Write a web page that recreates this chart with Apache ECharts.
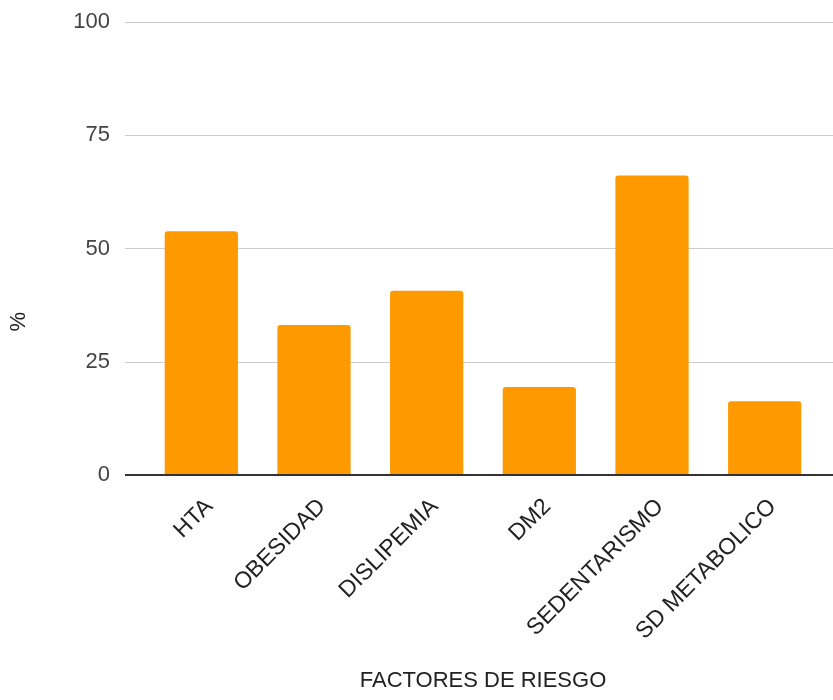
<!DOCTYPE html>
<html><head><meta charset="utf-8">
<script src="https://cdn.jsdelivr.net/npm/echarts@6/dist/echarts.min.js"></script>
<style>html,body{margin:0;padding:0;background:#fff}#c{width:833px;height:700px}</style>
</head><body><div id="c"></div>
<script>
const categories = ['HTA','OBESIDAD','DISLIPEMIA','DM2','SEDENTARISMO','SD METABOLICO'];
const values = [53.8, 33.1, 40.7, 19.4, 66.1, 16.3];
const yTicks = [0, 25, 50, 75, 100];
const xTitle = 'FACTORES DE RIESGO';
const yTitle = '%';

const chart = echarts.init(document.getElementById('c'), null, {renderer:'canvas'});
const font = 'Liberation Sans, Arial, sans-serif';
const fs = 22;
chart.setOption({
  animation:false,
  grid:[
    {left:125, right:0, top:22, bottom:225},
    {left:145, right:12, top:22, bottom:225},
    {left:153, right:4, top:22, bottom:225}
  ],
  xAxis:[
    {gridIndex:0, type:'value', show:false, min:0, max:1},
    {gridIndex:1, type:'category', data:categories,
     axisLine:{show:false}, axisTick:{show:false}, axisLabel:{show:false},
     name:xTitle, nameLocation:'middle', nameGap:195,
     nameTextStyle:{fontSize:fs, color:'#222', fontFamily:font}},
    {gridIndex:2, type:'category', data:categories,
     axisLine:{show:false}, axisTick:{show:false},
     axisLabel:{rotate:45, margin:28, fontSize:23, color:'#222', fontFamily:font, interval:0}}
  ],
  yAxis:[
    {gridIndex:0, type:'value', min:yTicks[0], max:yTicks[yTicks.length-1], interval:25,
     axisLine:{show:false}, axisTick:{show:false},
     axisLabel:{fontSize:fs, color:'#444', fontFamily:font, margin:15},
     splitLine:{lineStyle:{color:'#cccccc', width:1}}},
    {gridIndex:1, type:'value', min:0, max:100, interval:25, show:false},
    {gridIndex:2, type:'value', min:0, max:100, interval:25, show:false}
  ],
  graphic:[
    {type:'text', left:8, top:312, rotation:Math.PI/2,
     style:{text:yTitle, fontSize:fs, fill:'#222', fontFamily:font}}
  ],
  series:[
    {type:'bar', xAxisIndex:1, yAxisIndex:1, data:values, barCategoryGap:'35%',
     itemStyle:{color:'#ff9900', borderRadius:[3,3,0,0]}},
    {type:'line', xAxisIndex:0, yAxisIndex:0, data:[[0,0],[1,0]], symbol:'none',
     lineStyle:{color:'#333', width:2}, silent:true, z:5}
  ]
});
</script></body></html>
